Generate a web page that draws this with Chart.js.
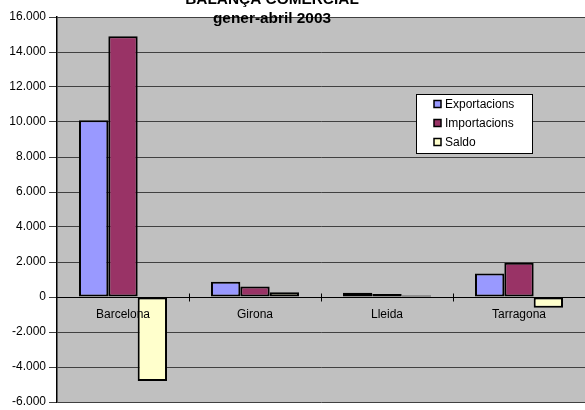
<!DOCTYPE html>
<html lang="ca">
<head>
    <meta charset="UTF-8">
    <title>Balança comercial</title>
    <script src="https://cdn.jsdelivr.net/npm/chart.js"></script>
    <style>
        body { margin: 0; background: #fff; }
        #wrap { width: 585px; height: 410px; }
    </style>
</head>
<body>
    <div id="wrap">
        <canvas id="balanca" width="585" height="410"></canvas>
    </div>

    <script>
        // dades llegides del gràfic (milions)
        const provincies = ['Barcelona', 'Girona', 'Lleida', 'Tarragona'];
        const exportacions = [10100, 870, 250, 1350];
        const importacions = [14900, 600, 170, 1960];
        const saldo = [-4800, 270, 80, -610];

        const titol = ['BALANÇA COMERCIAL', 'gener-abril 2003'];
        const font = 'Arial, "Liberation Sans", sans-serif';

        function formatNum(v) {
            const s = Math.abs(v).toString().replace(/\B(?=(\d{3})+(?!\d))/g, '.');
            return (v < 0 ? '-' : '') + s;
        }

        // fons gris de l'àrea del gràfic
        const plotBg = {
            id: 'plotBg',
            beforeDraw(chart) {
                const { ctx, chartArea: a } = chart;
                ctx.save();
                ctx.fillStyle = '#C0C0C0';
                ctx.fillRect(a.left, a.top, a.right - a.left, a.bottom - a.top);
                ctx.restore();
            }
        };

        // títol, marques de l'eix X i llegenda a l'estil Excel
        const extras = {
            id: 'extras',
            afterDraw(chart) {
                const ctx = chart.ctx;
                const x = chart.scales.x;
                const y = chart.scales.y;
                const y0 = Math.round(y.getPixelForValue(0)) + 0.5;
                ctx.save();

                // marques entre categories
                ctx.strokeStyle = '#000';
                ctx.lineWidth = 1;
                for (let i = 1; i < provincies.length; i++) {
                    const px = Math.round((x.getPixelForValue(i - 1) + x.getPixelForValue(i)) / 2) + 0.5;
                    ctx.beginPath();
                    ctx.moveTo(px, y0 - 4);
                    ctx.lineTo(px, y0 + 4);
                    ctx.stroke();
                }

                // títol
                ctx.fillStyle = '#000';
                ctx.textAlign = 'center';
                ctx.textBaseline = 'alphabetic';
                ctx.font = 'bold 15.4px ' + font;
                ctx.fillText(titol[0], 272, 4);
                ctx.fillText(titol[1], 272, 23);

                // llegenda
                const lx = 416, ly = 94, lw = 116, lh = 59;
                ctx.fillStyle = '#fff';
                ctx.fillRect(lx, ly, lw, lh);
                ctx.strokeStyle = '#000';
                ctx.lineWidth = 1;
                ctx.strokeRect(lx + 0.5, ly + 0.5, lw, lh);
                ctx.font = '12px ' + font;
                ctx.textAlign = 'left';
                ctx.textBaseline = 'middle';
                chart.data.datasets.forEach((ds, i) => {
                    const cy = ly + 10 + i * 19;
                    ctx.fillStyle = ds.backgroundColor;
                    ctx.fillRect(434, cy - 3.5, 7, 7);
                    ctx.strokeStyle = '#000';
                    ctx.lineWidth = 1.5;
                    ctx.strokeRect(434, cy - 3.5, 7, 7);
                    ctx.fillStyle = '#000';
                    ctx.fillText(ds.label, 445, cy + 1);
                });
                ctx.restore();
            }
        };

        const chart = new Chart(document.getElementById('balanca'), {
            type: 'bar',
            data: {
                labels: provincies,
                datasets: [
                    { label: 'Exportacions', data: exportacions, backgroundColor: '#9999FF' },
                    { label: 'Importacions', data: importacions, backgroundColor: '#993366' },
                    { label: 'Saldo', data: saldo, backgroundColor: '#FFFFCC' }
                ]
            },
            options: {
                responsive: false,
                animation: false,
                layout: { padding: { top: 17, bottom: 8, left: 0, right: 0 } },
                datasets: {
                    bar: {
                        borderColor: '#000',
                        borderWidth: 2,
                        borderSkipped: false,
                        categoryPercentage: 0.667,
                        barPercentage: 1
                    }
                },
                plugins: {
                    legend: { display: false },
                    title: { display: false },
                    tooltip: { enabled: false }
                },
                scales: {
                    x: {
                        position: { y: 0 },
                        grid: { display: false },
                        border: { display: true, color: '#000', width: 1 },
                        ticks: {
                            z: 1,
                            padding: 2,
                            color: '#000',
                            font: { family: font, size: 12 }
                        }
                    },
                    y: {
                        min: -6000,
                        max: 16000,
                        afterFit(scale) {
                            scale.width = 57;
                            scale.paddingTop = 0;
                            scale.paddingBottom = 0;
                        },
                        grid: { color: '#404040', lineWidth: 1, tickLength: 8 },
                        border: { display: true, color: '#000', width: 1.5 },
                        ticks: {
                            stepSize: 2000,
                            padding: 3,
                            color: '#000',
                            font: { family: font, size: 12 },
                            callback: (v) => formatNum(v)
                        }
                    }
                }
            },
            plugins: [plotBg, extras]
        });
    </script>
</body>
</html>
